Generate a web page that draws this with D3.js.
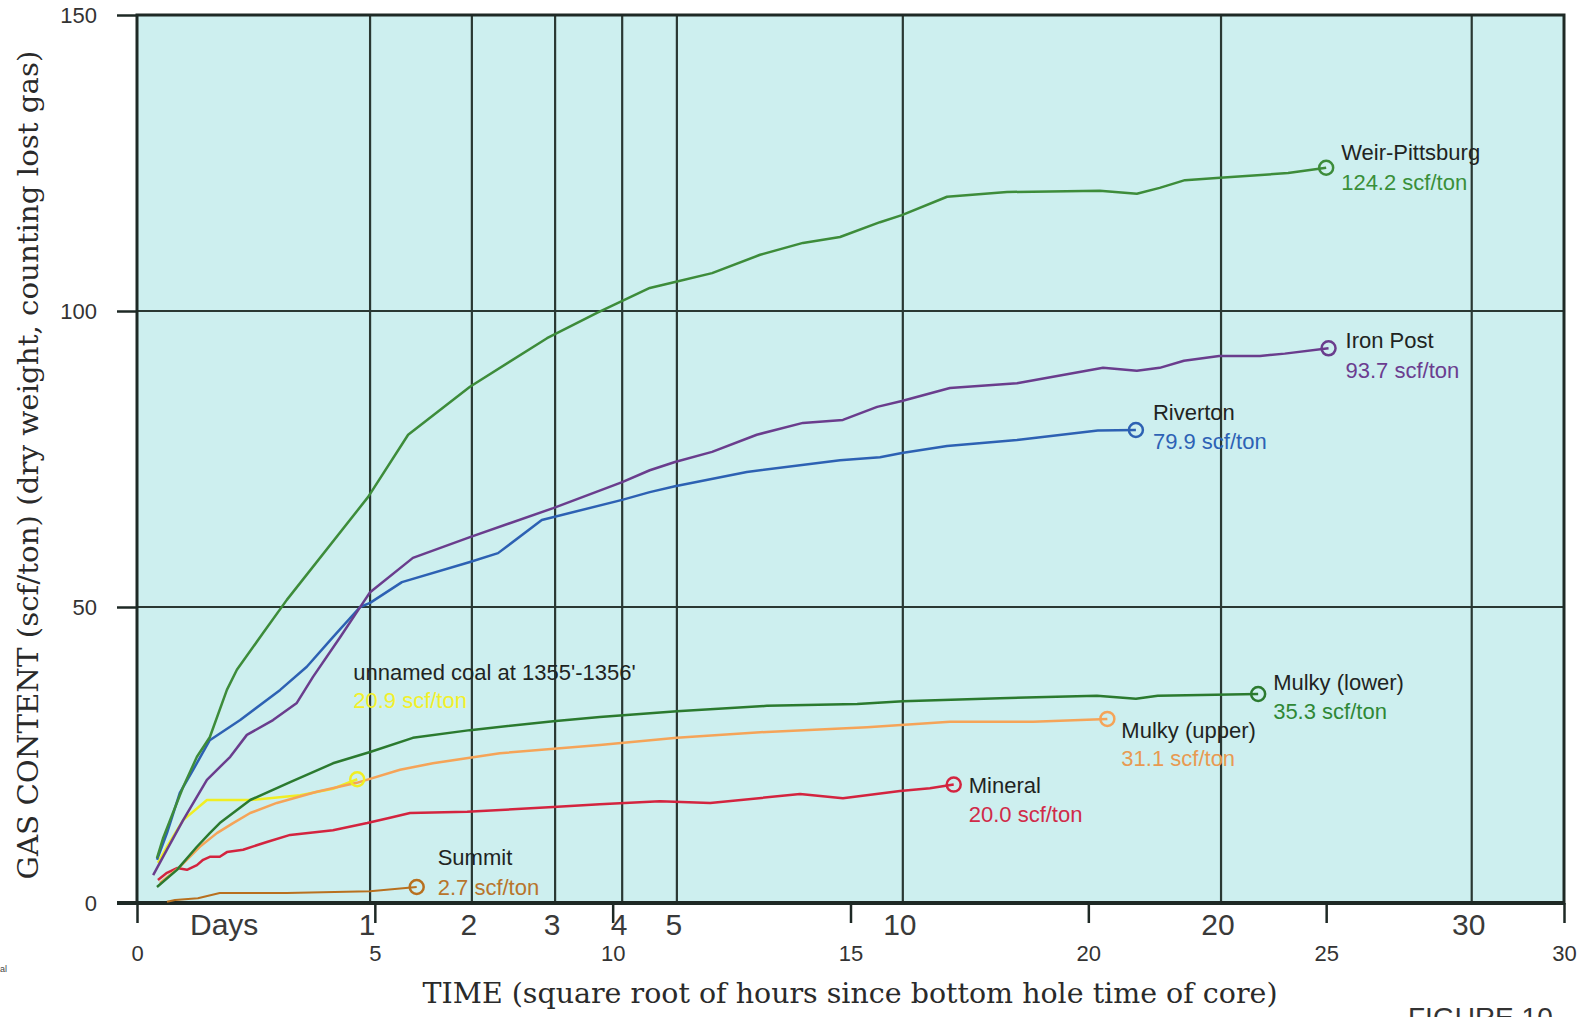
<!DOCTYPE html>
<html>
<head>
<meta charset="utf-8">
<script src="https://cdn.jsdelivr.net/npm/d3@7"></script>
<style>
  body { margin: 0; background: #ffffff; }
  svg { display: block; }
</style>
</head>
<body>
<svg id="chart" width="1593" height="1017"></svg>
<script>
// Canister desorption curves: cumulative gas content vs. square root of elapsed hours.

// Axis ticks
const yTicks = [0, 50, 100, 150];
const hourTicks = [0, 5, 10, 15, 20, 25, 30];
const dayLabels = ["1", "2", "3", "4", "5", "10", "20", "30"];
const dayGridAt = [4.90, 7.04, 8.79, 10.20, 11.35, 16.10, 22.79, 28.06]; // in sqrt(hours)

// Series: [sqrt(hours), scf/ton]; last point is the final measured content
const weirPittsburg = [
  [0.42, 7.6], [0.55, 11.0], [0.74, 14.9], [0.97, 19.6], [1.26, 24.7], [1.53, 28.0],
  [1.89, 36.0], [2.10, 39.4], [2.65, 45.6], [3.15, 51.2], [4.86, 68.6], [5.70, 79.1],
  [7.00, 87.2], [8.62, 95.4], [9.67, 99.7], [10.78, 103.9], [11.31, 104.9], [12.09, 106.4],
  [13.10, 109.5], [14.00, 111.5], [14.78, 112.5], [15.62, 115.0], [16.08, 116.2],
  [17.03, 119.3], [18.29, 120.1], [20.24, 120.3], [21.02, 119.8], [21.50, 120.8],
  [22.03, 122.1], [22.77, 122.5], [24.20, 123.3], [25.00, 124.2]
];
const ironPost = [
  [0.34, 4.7], [0.63, 9.0], [0.97, 14.0], [1.47, 20.8], [1.96, 24.7], [2.31, 28.4],
  [2.86, 30.9], [3.36, 33.8], [3.70, 38.2], [4.27, 44.9], [4.75, 50.7], [4.90, 52.5],
  [5.80, 58.3], [7.00, 61.8], [8.75, 66.7], [10.20, 71.1], [10.78, 73.1], [11.31, 74.5],
  [12.09, 76.2], [13.03, 79.1], [14.00, 81.1], [14.84, 81.6], [15.56, 83.8], [16.08, 84.8],
  [17.09, 87.0], [18.50, 87.8], [20.31, 90.4], [21.02, 89.9], [21.50, 90.4], [22.01, 91.6],
  [22.75, 92.4], [23.61, 92.4], [24.13, 92.8], [25.05, 93.7]
];
const riverton = [
  [0.42, 7.3], [0.63, 11.8], [0.90, 18.6], [1.18, 22.5], [1.53, 27.5], [2.17, 30.9],
  [3.01, 36.0], [3.57, 39.9], [4.12, 44.9], [4.69, 50.0], [4.90, 50.7], [5.57, 54.2],
  [7.00, 57.6], [7.59, 59.1], [8.51, 64.7], [10.20, 68.1], [10.78, 69.4], [11.31, 70.4],
  [12.82, 72.8], [14.78, 74.8], [15.62, 75.3], [16.08, 76.0], [17.03, 77.2], [18.50, 78.2],
  [20.20, 79.8], [21.00, 79.9]
];
const unnamedCoal = [
  [0.44, 6.8], [0.63, 9.5], [0.97, 14.0], [1.47, 17.4], [2.38, 17.4], [3.43, 18.2],
  [4.12, 19.3], [4.63, 20.9]
];
const mulkyLower = [
  [0.42, 2.7], [0.84, 5.6], [1.26, 9.5], [1.53, 11.8], [1.74, 13.5], [2.38, 17.4],
  [3.22, 20.4], [4.12, 23.6], [4.90, 25.5], [5.80, 27.9], [7.00, 29.2], [8.75, 30.7],
  [9.73, 31.4], [11.35, 32.4], [13.24, 33.3], [15.14, 33.6], [16.10, 34.1], [18.14, 34.6],
  [20.18, 35.0], [21.00, 34.5], [21.46, 35.0], [23.57, 35.3]
];
const mulkyUpper = [
  [0.48, 3.4], [0.90, 6.1], [1.32, 9.5], [1.68, 11.8], [2.02, 13.5], [2.38, 15.2],
  [2.94, 16.9], [3.78, 18.8], [4.62, 20.3], [5.53, 22.5], [6.22, 23.6], [7.63, 25.3],
  [9.73, 26.7], [11.35, 27.9], [13.24, 28.9], [15.35, 29.7], [17.09, 30.6], [18.84, 30.6],
  [20.40, 31.1]
];
const mineral = [
  [0.44, 3.9], [0.63, 5.1], [0.84, 5.9], [1.05, 5.6], [1.26, 6.4], [1.39, 7.3],
  [1.53, 7.8], [1.74, 7.8], [1.89, 8.6], [2.23, 9.0], [2.73, 10.3], [3.22, 11.5],
  [4.12, 12.3], [4.84, 13.5], [5.32, 14.4], [5.74, 15.2], [6.94, 15.4], [8.75, 16.2],
  [9.73, 16.7], [10.99, 17.2], [12.05, 16.9], [13.94, 18.4], [14.84, 17.7], [16.04, 18.9],
  [16.67, 19.4], [17.17, 20.0]
];
const summit = [
  [0.63, 0.2], [0.80, 0.5], [1.28, 0.8], [1.74, 1.7], [3.15, 1.7], [4.90, 2.0], [5.88, 2.7]
];

const series = [
  { name: "unnamed coal at 1355'-1356'", data: unnamedCoal, color: "#f0ee22", valueColor: "#f2f02a", width: 2.5 },
  { name: "Summit", data: summit, color: "#b8701f", valueColor: "#b8752c", width: 2 },
  { name: "Mineral", data: mineral, color: "#d3243f", valueColor: "#d02a48", width: 2.5 },
  { name: "Mulky (upper)", data: mulkyUpper, color: "#f5a458", valueColor: "#e89a52", width: 2.5 },
  { name: "Mulky (lower)", data: mulkyLower, color: "#2b7a2f", valueColor: "#2f8836", width: 2.5 },
  { name: "Riverton", data: riverton, color: "#2d61b3", valueColor: "#2d62b5", width: 2.5 },
  { name: "Iron Post", data: ironPost, color: "#6a3d8d", valueColor: "#6b3d8f", width: 2.5 },
  { name: "Weir-Pittsburg", data: weirPittsburg, color: "#3d8c3a", valueColor: "#3a8f3a", width: 2.5 }
];

// Label placement relative to each end marker (pixels)
const labelOffsets = {
  "Weir-Pittsburg": [15, -8, 22],
  "Iron Post": [17, 0, 30],
  "Riverton": [17, -10, 19],
  "Mulky (lower)": [15, -4, 25],
  "Mulky (upper)": [14, 19, 47],
  "Mineral": [15, 8, 37],
  "Summit": [21, -22, 8],
  "unnamed coal at 1355'-1356'": [-4, -99, -71]
};

const svg = d3.select("#chart");
const plotLeft = 137, plotRight = 1564, plotTop = 15, plotBottom = 903;

const x = d3.scaleLinear().domain([0, 30]).range([plotLeft, plotRight]);
const y = d3.scaleLinear().domain([0, 150]).range([plotBottom, plotTop]);

const gridColor = "#2a3833";
const sans = "'Liberation Sans', Arial, Helvetica, sans-serif";
const serif = "'DejaVu Serif', 'Century Schoolbook', serif";

// Plot background
svg.append("rect")
  .attr("x", plotLeft).attr("y", plotTop)
  .attr("width", plotRight - plotLeft).attr("height", plotBottom - plotTop)
  .attr("fill", "#cdefef");

// Horizontal grid lines
svg.append("g").selectAll("line")
  .data(yTicks.filter(v => v > 0 && v < 150))
  .join("line")
  .attr("x1", plotLeft).attr("x2", plotRight)
  .attr("y1", d => y(d)).attr("y2", d => y(d))
  .attr("stroke", gridColor).attr("stroke-width", 2.2);

// Vertical day grid lines
svg.append("g").selectAll("line")
  .data(dayGridAt)
  .join("line")
  .attr("x1", d => x(d)).attr("x2", d => x(d))
  .attr("y1", plotTop).attr("y2", plotBottom)
  .attr("stroke", gridColor).attr("stroke-width", 2.2);

// Plot frame
svg.append("rect")
  .attr("x", plotLeft).attr("y", plotTop)
  .attr("width", plotRight - plotLeft).attr("height", plotBottom - plotTop)
  .attr("fill", "none").attr("stroke", "#1e2925").attr("stroke-width", 3);

// Y axis (ticks extend left)
const yAxis = d3.axisLeft(y).tickValues(yTicks).tickSize(20).tickPadding(20)
  .tickFormat(d3.format("d"));
const gy = svg.append("g").attr("transform", `translate(${plotLeft},0)`).call(yAxis);
gy.select(".domain").remove();
gy.selectAll(".tick line").attr("stroke", "#1e2925").attr("stroke-width", 2.5);
gy.selectAll(".tick text").attr("font-family", sans).attr("font-size", 22).attr("fill", "#333");

// Bottom axis: sqrt(hours)
const xAxis = d3.axisBottom(x).tickValues(hourTicks).tickSize(20).tickPadding(0)
  .tickFormat(d3.format("d"));
const gx = svg.append("g").attr("transform", `translate(0,${plotBottom})`).call(xAxis);
gx.select(".domain").attr("stroke", "#1e2925").attr("stroke-width", 4)
  .attr("d", `M${plotLeft - 20},0H${plotRight}`);
gx.selectAll(".tick line").attr("stroke", "#1e2925").attr("stroke-width", 2.5);
gx.selectAll(".tick text")
  .attr("y", 58).attr("dy", 0)
  .attr("font-family", sans).attr("font-size", 22).attr("fill", "#333");

// Day labels along the axis
svg.append("g").selectAll("text")
  .data(dayLabels)
  .join("text")
  .attr("x", (d, i) => x(dayGridAt[i]) - 3)
  .attr("y", 935)
  .attr("text-anchor", "middle")
  .attr("font-family", sans).attr("font-size", 30).attr("fill", "#3a3a3a")
  .text(d => d);
svg.append("text")
  .attr("x", 190).attr("y", 935)
  .attr("font-family", sans).attr("font-size", 30).attr("fill", "#3a3a3a")
  .text("Days");

// Curves
const line = d3.line().x(d => x(d[0])).y(d => y(d[1]));
const gLines = svg.append("g");
series.forEach(s => {
  gLines.append("path")
    .attr("d", line(s.data))
    .attr("fill", "none")
    .attr("stroke", s.color)
    .attr("stroke-width", s.width)
    .attr("stroke-linejoin", "round");
});

// End markers and labels
const fmt = d3.format(".1f");
series.forEach(s => {
  const last = s.data[s.data.length - 1];
  const cx = x(last[0]), cy = y(last[1]);
  const [dx, dy1, dy2] = labelOffsets[s.name];
  svg.append("circle")
    .attr("cx", cx).attr("cy", cy).attr("r", 7)
    .attr("fill", "none").attr("stroke", s.color).attr("stroke-width", 2.5);
  svg.append("text")
    .attr("x", cx + dx).attr("y", cy + dy1)
    .attr("font-family", sans).attr("font-size", 22).attr("fill", "#1f2422")
    .text(s.name);
  svg.append("text")
    .attr("x", cx + dx).attr("y", cy + dy2)
    .attr("font-family", sans).attr("font-size", 22).attr("fill", s.valueColor)
    .text(`${fmt(last[1])} scf/ton`);
});

// Axis titles
svg.append("text")
  .attr("transform", "translate(38,465) rotate(-90)")
  .attr("text-anchor", "middle")
  .attr("font-family", serif).attr("font-size", 27).attr("fill", "#2a2a2a")
  .attr("textLength", 829).attr("lengthAdjust", "spacingAndGlyphs")
  .text("GAS CONTENT (scf/ton) (dry weight, counting lost gas)");

svg.append("text")
  .attr("x", 850).attr("y", 1003)
  .attr("text-anchor", "middle")
  .attr("font-family", serif).attr("font-size", 27).attr("fill", "#2a2a2a")
  .attr("textLength", 855).attr("lengthAdjust", "spacingAndGlyphs")
  .text("TIME (square root of hours since bottom hole time of core)");

svg.append("text")
  .attr("x", 1408).attr("y", 1027)
  .attr("font-family", sans).attr("font-size", 28).attr("fill", "#333")
  .text("FIGURE 10");

svg.append("text")
  .attr("x", 0).attr("y", 972)
  .attr("font-family", sans).attr("font-size", 9).attr("fill", "#444")
  .text("al");
</script>
</body>
</html>
